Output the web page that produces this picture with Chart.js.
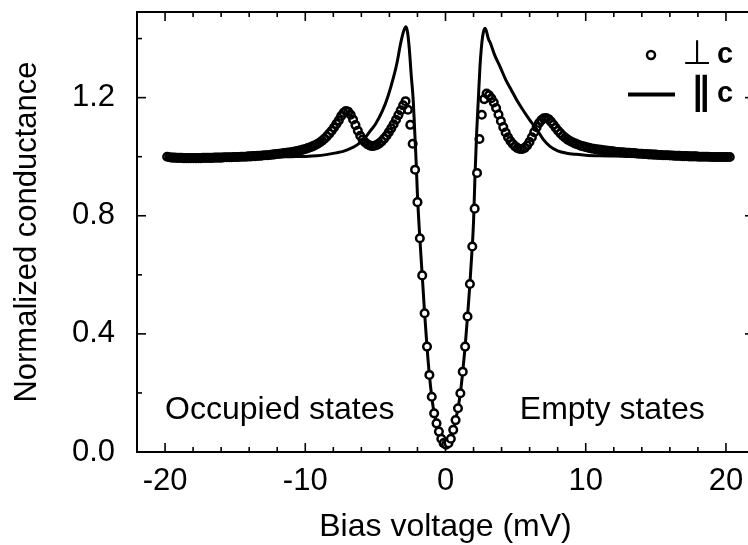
<!DOCTYPE html>
<html><head><meta charset="utf-8">
<script src="https://cdn.jsdelivr.net/npm/chart.js@4.4.1/dist/chart.umd.min.js"></script>
<style>
html,body{margin:0;padding:0;overflow:hidden;background:#fff;width:748px;height:545px}
#wrap{position:relative;width:770px;height:545px}
</style>
</head><body><div id="wrap"><canvas id="c" width="770" height="545"></canvas></div>
<script>
// ---- data ----
const xTicks = [-20, -10, 0, 10, 20];
const xMinorTicks = [-20,-18,-16,-14,-12,-10,-8,-6,-4,-2,0,2,4,6,8,10,12,14,16,18,20];
const yTicks = [0.0, 0.4, 0.8, 1.2];
const yMinorTicks = [0.2, 0.6, 1.0, 1.4];

// perpendicular to c (open circles)
const perpX = [
-19.85,-19.68,-19.51,-19.34,-19.17,-19.00,-18.83,-18.66,-18.49,-18.32,
-18.15,-17.98,-17.81,-17.64,-17.47,-17.30,-17.13,-16.96,-16.79,-16.62,
-16.45,-16.28,-16.11,-15.94,-15.77,-15.60,-15.43,-15.26,-15.09,-14.92,
-14.75,-14.58,-14.41,-14.24,-14.07,-13.90,-13.73,-13.56,-13.39,-13.22,
-13.05,-12.88,-12.71,-12.54,-12.37,-12.20,-12.03,-11.86,-11.69,-11.52,
-11.35,-11.18,-11.01,-10.84,-10.67,-10.50,-10.33,-10.16,-9.99,-9.82,
-9.65,-9.48,-9.31,-9.14,-8.97,-8.80,-8.63,-8.46,-8.29,-8.12,
-7.95,-7.78,-7.61,-7.44,-7.27,-7.10,-6.93,-6.76,-6.59,-6.42,
-6.25,-6.08,-5.91,-5.74,-5.57,-5.40,-5.23,-5.06,-4.89,-4.72,
-4.55,-4.38,-4.21,-4.04,-3.87,-3.70,-3.53,-3.36,-3.19,-3.02,
-2.85,-2.68,-2.51,-2.34,-2.17,-2.00,-1.83,-1.66,-1.49,-1.32,
-1.15,-0.98,-0.81,-0.64,-0.47,-0.30,-0.13,0.04,0.21,0.38,
0.55,0.72,0.89,1.06,1.23,1.40,1.57,1.74,1.91,2.08,
2.25,2.42,2.59,2.76,2.93,3.10,3.27,3.44,3.61,3.78,
3.95,4.12,4.29,4.46,4.63,4.80,4.97,5.14,5.31,5.48,
5.65,5.82,5.99,6.16,6.33,6.50,6.67,6.84,7.01,7.18,
7.35,7.52,7.69,7.86,8.03,8.20,8.37,8.54,8.71,8.88,
9.05,9.22,9.39,9.56,9.73,9.90,10.07,10.24,10.41,10.58,
10.75,10.92,11.09,11.26,11.43,11.60,11.77,11.94,12.11,12.28,
12.45,12.62,12.79,12.96,13.13,13.30,13.47,13.64,13.81,13.98,
14.15,14.32,14.49,14.66,14.83,15.00,15.17,15.34,15.51,15.68,
15.85,16.02,16.19,16.36,16.53,16.70,16.87,17.04,17.21,17.38,
17.55,17.72,17.89,18.06,18.23,18.40,18.57,18.74,18.91,19.08,
19.25,19.42,19.59,19.76,19.93,20.10,20.27];
const perpG = [
1.000,0.998,0.997,0.997,0.996,0.996,0.996,0.995,0.995,0.995,
0.995,0.995,0.995,0.995,0.995,0.996,0.996,0.996,0.996,0.996,
0.997,0.997,0.997,0.997,0.998,0.998,0.998,0.998,0.999,0.999,
0.999,1.000,1.000,1.000,1.001,1.001,1.002,1.002,1.003,1.003,
1.004,1.005,1.005,1.006,1.007,1.008,1.009,1.010,1.011,1.012,
1.013,1.014,1.015,1.017,1.018,1.020,1.022,1.024,1.026,1.029,
1.032,1.035,1.039,1.043,1.048,1.054,1.061,1.069,1.078,1.088,
1.099,1.111,1.123,1.138,1.149,1.155,1.152,1.142,1.126,1.107,
1.088,1.071,1.058,1.049,1.042,1.038,1.036,1.037,1.040,1.045,
1.052,1.061,1.071,1.083,1.096,1.110,1.125,1.141,1.157,1.174,
1.188,1.159,1.108,1.044,0.956,0.846,0.724,0.598,0.470,0.357,
0.261,0.187,0.131,0.097,0.069,0.045,0.030,0.025,0.030,0.045,
0.075,0.108,0.148,0.199,0.272,0.357,0.459,0.569,0.696,0.824,
0.945,1.060,1.142,1.195,1.214,1.208,1.198,1.184,1.165,1.143,
1.121,1.100,1.082,1.066,1.053,1.043,1.035,1.029,1.026,1.026,
1.030,1.038,1.050,1.066,1.083,1.100,1.114,1.124,1.130,1.131,
1.127,1.119,1.109,1.098,1.088,1.079,1.071,1.064,1.058,1.053,
1.049,1.045,1.042,1.039,1.036,1.034,1.032,1.030,1.028,1.027,
1.025,1.024,1.023,1.022,1.021,1.020,1.019,1.018,1.017,1.016,
1.015,1.015,1.014,1.013,1.013,1.012,1.012,1.011,1.010,1.010,
1.009,1.009,1.008,1.008,1.007,1.007,1.006,1.006,1.005,1.005,
1.005,1.004,1.004,1.003,1.003,1.003,1.002,1.002,1.002,1.001,
1.001,1.001,1.001,1.000,1.000,1.000,1.000,1.000,0.999,0.999,
0.999,0.999,0.999,0.999,0.999,0.999,0.999];

// parallel to c (solid line)
const parX = [-19.85,-18,-16,-14,-12,-11,-10,-9.2,-8.5,-7.8,
-7.3,-6.8,-6.3,-5.8,-5.4,-5.0,-4.5,-4.1,-3.7,-3.45,
-3.24,-3.1,-2.95,-2.82,-2.7,-2.58,-2.45,-2.3,-2.2,-2.1,
-2.0,-1.83,-1.66,-1.49,-1.32,-1.15,-0.98,-0.81,-0.64,-0.47,
-0.30,-0.13,0.04,0.21,0.38,0.55,0.72,0.89,1.06,1.23,
1.40,1.57,1.74,1.91,2.0,2.1,2.22,2.34,2.46,2.56,
2.65,2.75,2.82,2.92,3.05,3.2,3.5,3.88,4.3,4.7,
5.07,5.5,6.0,6.6,7.0,7.45,8.0,8.64,9.3,10,
11,12,14,16,18,20.27];
const parG = [0.998,0.996,0.996,0.997,0.999,1.000,1.001,1.003,1.007,1.013,
1.018,1.027,1.040,1.060,1.085,1.110,1.155,1.205,1.270,1.320,
1.374,1.405,1.430,1.440,1.420,1.365,1.280,1.190,1.090,0.990,
0.870,0.724,0.598,0.470,0.357,0.261,0.187,0.131,0.097,0.069,
0.045,0.030,0.025,0.030,0.045,0.075,0.108,0.148,0.199,0.272,
0.357,0.459,0.569,0.696,0.780,0.930,1.080,1.193,1.306,1.370,
1.408,1.430,1.435,1.425,1.400,1.385,1.345,1.306,1.260,1.225,
1.193,1.160,1.125,1.086,1.057,1.035,1.020,1.012,1.008,1.005,
1.003,1.002,1.000,0.999,0.998,0.998];

const FONT = "'Liberation Sans', Arial, Helvetica, sans-serif";
Chart.defaults.font.family = FONT;
Chart.defaults.color = '#000';

const framePlugin = {
  id: 'frame',
  afterDraw(chart) {
    const {ctx, chartArea: a, scales: {x, y}} = chart;
    ctx.save();
    ctx.strokeStyle = '#000';
    ctx.lineWidth = 2;
    ctx.strokeRect(a.left, a.top, a.right - a.left, a.bottom - a.top);
    ctx.lineWidth = 1.6;
    const seg = (x1, y1, x2, y2) => { ctx.beginPath(); ctx.moveTo(x1, y1); ctx.lineTo(x2, y2); ctx.stroke(); };
    xMinorTicks.forEach(v => {
      const p = x.getPixelForValue(v);
      const len = xTicks.includes(v) ? 9 : 5;
      seg(p, a.bottom, p, a.bottom - len);
      seg(p, a.top, p, a.top + len);
    });
    yTicks.concat(yMinorTicks).forEach(v => {
      const p = y.getPixelForValue(v);
      const len = yTicks.includes(v) ? 9 : 5;
      seg(a.left, p, a.left + len, p);
      seg(a.right, p, a.right - len, p);
    });
    // annotations
    ctx.fillStyle = '#000';
    ctx.font = '32px ' + FONT;
    ctx.textBaseline = 'middle';
    ctx.textAlign = 'left';
    ctx.fillText('Occupied states', x.getPixelForValue(-20), y.getPixelForValue(0.14));
    ctx.fillText('Empty states', x.getPixelForValue(5.3), y.getPixelForValue(0.14));
    // legend
    ctx.lineWidth = 2.5;
    ctx.fillStyle = '#fff';
    ctx.beginPath(); ctx.arc(651, 55, 4, 0, Math.PI * 2); ctx.fill(); ctx.stroke();
    ctx.fillStyle = '#000';
    ctx.textBaseline = 'alphabetic';
    ctx.textAlign = 'center';
    ctx.font = "34px 'DejaVu Sans', sans-serif";
    ctx.fillText('\u22A5', 697, 64);
    ctx.font = "bold 38px 'DejaVu Sans', sans-serif";
    ctx.fillText('\u2225', 701, 104);
    ctx.textAlign = 'left';
    ctx.font = 'bold 29px ' + FONT;
    ctx.fillText('c', 717, 63);
    ctx.fillText('c', 717, 102);
    ctx.lineWidth = 4;
    seg(628, 94.5, 675, 94.5);
    ctx.restore();
  }
};

new Chart(document.getElementById('c'), {
  type: 'scatter',
  data: {
    datasets: [
      {
        label: '\u22A5 c',
        data: perpX.map((v, i) => ({x: v, y: perpG[i]})),
        showLine: false,
        pointRadius: 3.8,
        pointBorderWidth: 2.5,
        pointBorderColor: '#000',
        pointBackgroundColor: c => (c.raw && Math.abs(c.raw.x) < 2.3) ? '#fff' : 'rgba(255,255,255,0)',
        order: 0
      },
      {
        label: '\u2225 c',
        data: parX.map((v, i) => ({x: v, y: parG[i]})),
        showLine: true,
        borderColor: '#000',
        borderWidth: 3,
        pointRadius: 0,
        cubicInterpolationMode: 'monotone',
        order: 1
      }
    ]
  },
  options: {
    responsive: false,
    animation: false,
    devicePixelRatio: 1,
    layout: {padding: {left: 0, right: 16, top: 12, bottom: 0}},
    plugins: {legend: {display: false}, tooltip: {enabled: false}},
    scales: {
      x: {
        type: 'linear', min: -22, max: 22,
        afterBuildTicks: s => { s.ticks = xTicks.map(v => ({value: v})); },
        afterFit: s => { s.height = 93; s.paddingLeft = 0; s.paddingRight = 0; },
        grid: {display: false, drawTicks: false}, border: {display: false},
        ticks: {padding: 11, font: {size: 31}, color: '#000', callback: v => String(v)},
        title: {display: true, text: 'Bias voltage (mV)', font: {size: 32, lineHeight: 1.1}, color: '#000', padding: {top: 0, bottom: 0}}
      },
      y: {
        type: 'linear', min: 0, max: 1.49,
        afterBuildTicks: s => { s.ticks = yTicks.map(v => ({value: v})); },
        afterFit: s => { s.width = 137; s.paddingTop = 0; s.paddingBottom = 0; },
        grid: {display: false, drawTicks: false}, border: {display: false},
        ticks: {padding: 22, font: {size: 31}, color: '#000', callback: v => Number(v).toFixed(1)},
        title: {display: true, text: 'Normalized conductance', font: {size: 31}, color: '#000', padding: {top: 9, bottom: 0}}
      }
    }
  },
  plugins: [framePlugin]
});
</script></body></html>
